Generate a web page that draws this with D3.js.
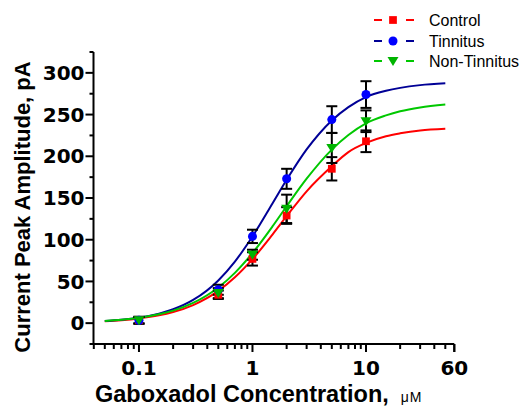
<!DOCTYPE html>
<html><head><meta charset="utf-8">
<script src="https://cdn.jsdelivr.net/npm/d3@7/dist/d3.min.js"></script>
<style>body{margin:0;background:#fff}svg{display:block}</style>
</head><body>
<script>
// ---- data ----
const conc = [0.1, 0.5, 1, 2, 5, 10];
const controlMean = [3.5, 34, 77, 129, 185, 218];
const controlSem = [4, 5, 8, 10, 14, 13];
const tinnitusMean = [3.5, 40, 104, 173, 244, 274];
const tinnitusSem = [4, 6, 8, 12, 16, 16];
const nonTinnitusMean = [3.5, 36, 82, 137, 210, 242];
const nonTinnitusSem = [4, 6, 6, 17, 18, 13];

const curveConc = [0.05, 0.07, 0.1, 0.15, 0.2, 0.3, 0.5, 0.7, 1, 1.5, 2, 3, 5, 7, 10, 15, 20, 30, 50];
const controlFit = [2.3, 3.5, 5.6, 9.3, 13.3, 21.7, 38.7, 55.0, 76.8, 106.2, 128.2, 158, 188, 205, 216, 224, 227.5, 231, 233];
const tinnitusFit = [2.6, 4.1, 6.6, 11.4, 16.6, 27.8, 51.2, 73.8, 103.9, 143.4, 171.8, 208.2, 243, 259, 271, 278.5, 282, 285.3, 287.5];
const nonTinnitusFit = [2.7, 4.1, 6.4, 10.6, 15.0, 24.2, 42.7, 60.3, 84.0, 115.9, 140.1, 173.1, 208, 225.5, 239.5, 249, 254, 258.6, 262];

const seriesNames = ["Control", "Tinnitus", "Non-Tinnitus"];
const yTickValues = [0, 50, 100, 150, 200, 250, 300];
const xTickValues = [0.1, 1, 10, 60];
const xTickLabels = ["0.1", "1", "10", "60"];

// ---- layout ----
const W = 522, H = 407;
const svg = d3.select("body").append("svg").attr("width", W).attr("height", H);

const x = d3.scaleLog().domain([0.04, 60]).range([93.8, 454.3]);
const y = d3.scaleLinear().domain([-25, 325]).range([344, 52]);

const series = [
  {name: seriesNames[0], mean: controlMean, sem: controlSem, fit: controlFit, line: "#ff0000", fill: "#ff0000", shape: "square"},
  {name: seriesNames[1], mean: tinnitusMean, sem: tinnitusSem, fit: tinnitusFit, line: "#000096", fill: "#0000ff", shape: "circle"},
  {name: seriesNames[2], mean: nonTinnitusMean, sem: nonTinnitusSem, fit: nonTinnitusFit, line: "#00c800", fill: "#00b400", shape: "triangle"}
];

function symbolFor(shape) {
  if (shape === "square") return d3.symbol().type(d3.symbolSquare).size(60)();
  if (shape === "circle") return d3.symbol().type(d3.symbolCircle).size(64)();
  return "M-5.5,-4 L5.5,-4 L0,5 Z";
}

// ---- axes ----
const axisFont = "'DejaVu Sans', sans-serif";
const gx = svg.append("g").attr("transform", "translate(0,344)");
gx.append("line").attr("x1", x(0.04)).attr("x2", x(60)).attr("stroke", "#000").attr("stroke-width", 2);
const minorX = [];
[0.01, 0.1, 1, 10].forEach(d => { for (let k = 1; k <= 9; k++) { const v = d * k; if (v >= 0.04 && v <= 60 && ![0.1,1,10].some(t => Math.abs(t - v) < 1e-9)) minorX.push(v); } });
minorX.push(60);
gx.selectAll(".mnx").data(minorX).join("line")
  .attr("x1", d => x(d)).attr("x2", d => x(d)).attr("y1", 0).attr("y2", d => d === 60 ? 8 : 5)
  .attr("stroke", "#000").attr("stroke-width", 2);
gx.selectAll(".mjx").data([0.1, 1, 10]).join("line")
  .attr("x1", d => x(d)).attr("x2", d => x(d)).attr("y1", 0).attr("y2", 8)
  .attr("stroke", "#000").attr("stroke-width", 2);
gx.selectAll(".lx").data(xTickValues).join("text")
  .attr("x", d => x(d)).attr("y", 31).attr("text-anchor", "middle")
  .attr("font-family", axisFont).attr("font-weight", "bold").attr("font-size", 20)
  .text((d, i) => xTickLabels[i]);

const gy = svg.append("g").attr("transform", "translate(93.5,0)");
gy.append("line").attr("y1", y(-25)).attr("y2", y(325)).attr("stroke", "#000").attr("stroke-width", 2);
const minorY = [-25, 25, 75, 125, 175, 225, 275, 325];
gy.selectAll(".mny").data(minorY).join("line")
  .attr("y1", d => y(d)).attr("y2", d => y(d)).attr("x1", -4).attr("x2", 0)
  .attr("stroke", "#000").attr("stroke-width", 2);
gy.selectAll(".mjy").data(yTickValues).join("line")
  .attr("y1", d => y(d)).attr("y2", d => y(d)).attr("x1", -8).attr("x2", 0)
  .attr("stroke", "#000").attr("stroke-width", 2);
gy.selectAll(".ly").data(yTickValues).join("text")
  .attr("x", -9).attr("y", d => y(d)).attr("dy", "0.36em").attr("text-anchor", "end")
  .attr("font-family", axisFont).attr("font-weight", "bold").attr("font-size", 20)
  .text(d => d);

// axis titles
const titleFont = "'Liberation Sans', Arial, sans-serif";
const xt = svg.append("text").attr("x", 95).attr("y", 402)
  .attr("font-family", titleFont).attr("font-weight", "bold").attr("font-size", 23.5);
xt.append("tspan").text("Gaboxadol Concentration,");
xt.append("tspan").attr("dx", 12).attr("font-weight", "normal").attr("font-size", 14).attr("letter-spacing", 1).text("μM");

svg.append("text").attr("transform", "translate(30,207) rotate(-90)").attr("text-anchor", "middle")
  .attr("font-family", titleFont).attr("font-weight", "bold").attr("font-size", 22)
  .text("Current Peak Amplitude, pA");

// ---- curves ----
const line = d3.line().x(d => x(d[0])).y(d => y(d[1])).curve(d3.curveMonotoneX);
series.forEach(s => {
  svg.append("path").datum(curveConc.map((c, i) => [c, s.fit[i]]))
    .attr("d", line).attr("fill", "none").attr("stroke", s.line).attr("stroke-width", 2);
});

// ---- error bars ----
series.forEach(s => {
  const g = svg.append("g");
  conc.forEach((c, i) => {
    const cx = x(c), top = y(s.mean[i] + s.sem[i]), bot = y(s.mean[i] - s.sem[i]);
    g.append("line").attr("x1", cx).attr("x2", cx).attr("y1", top).attr("y2", bot).attr("stroke", "#000").attr("stroke-width", 2);
    g.append("line").attr("x1", cx - 5.5).attr("x2", cx + 5.5).attr("y1", top).attr("y2", top).attr("stroke", "#000").attr("stroke-width", 2);
    g.append("line").attr("x1", cx - 5.5).attr("x2", cx + 5.5).attr("y1", bot).attr("y2", bot).attr("stroke", "#000").attr("stroke-width", 2);
  });
});

// ---- markers ----
series.forEach(s => {
  svg.append("g").selectAll("path").data(conc.map((c, i) => [c, s.mean[i]])).join("path")
    .attr("transform", d => `translate(${x(d[0])},${y(d[1])})`)
    .attr("d", symbolFor(s.shape)).attr("fill", s.fill);
});

// ---- legend ----
const lg = svg.append("g");
const legendY = [20, 41, 61];
series.forEach((s, i) => {
  const ly = legendY[i];
  lg.append("line").attr("x1", 374).attr("x2", 382).attr("y1", ly).attr("y2", ly).attr("stroke", s.line).attr("stroke-width", 2);
  lg.append("line").attr("x1", 406).attr("x2", 414).attr("y1", ly).attr("y2", ly).attr("stroke", s.line).attr("stroke-width", 2);
  lg.append("path").attr("transform", `translate(393,${ly})`).attr("d", symbolFor(s.shape)).attr("fill", s.fill);
  lg.append("text").attr("x", 429).attr("y", ly).attr("dy", "0.35em")
    .attr("font-family", titleFont).attr("font-size", 16).text(s.name);
});
</script>
</body></html>
